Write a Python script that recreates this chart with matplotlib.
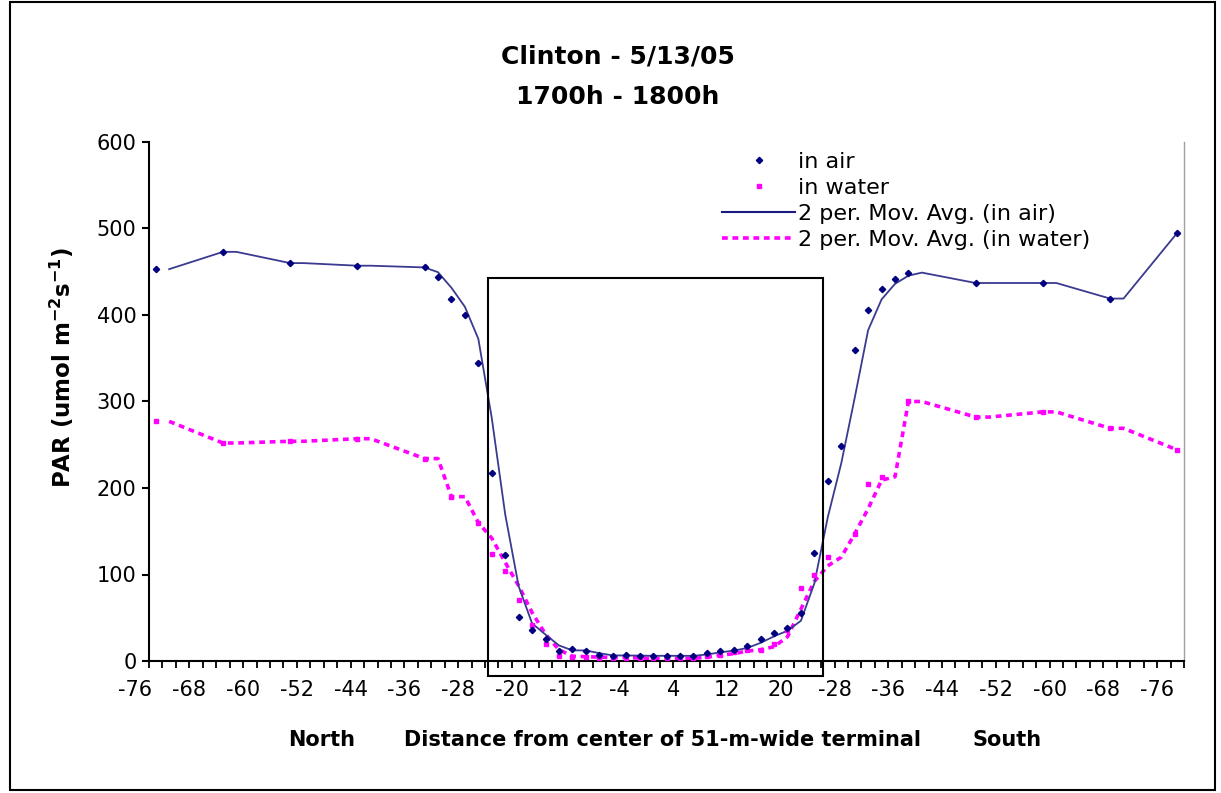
import numpy as np
import pandas as pd
import matplotlib
matplotlib.use('Agg')
import matplotlib.pyplot as plt
from matplotlib.patches import Rectangle
from matplotlib.lines import Line2D
from matplotlib.transforms import blended_transform_factory

plt.rcParams['font.family'] = ['DejaVu Sans']

# categories: distance every 2 m, 77 rows (the sheet labels both sides as negative)
n_cat = 77
tick_labels = ['-76', '-68', '-60', '-52', '-44', '-36', '-28', '-20', '-12', '-4',
               '4', '12', '20', '-28', '-36', '-44', '-52', '-60', '-68', '-76']

# PAR in air (row index -> value)
air_idx = [0, 5, 10, 15, 20, 21, 22, 23, 24, 25, 26, 27, 28, 29, 30, 31, 32, 33, 34, 35,
           36, 37, 38, 39, 40, 41, 42, 43, 44, 45, 46, 47, 48, 49, 50, 51, 52, 53, 54, 55,
           56, 61, 66, 71, 76]
air_val = [453, 473, 460, 457, 455, 444, 419, 400, 345, 217, 122, 51, 36, 25, 11, 13.5, 11, 7, 6, 6.6,
           6, 6, 6, 6, 6, 9, 11, 13, 17, 25, 32, 38, 55, 124.5, 208, 249, 359, 406, 430, 442,
           449, 437, 437, 419, 495]

# PAR in water
water_idx = [0, 5, 10, 15, 20, 22, 24, 25, 26, 27, 28, 29, 30, 31, 32, 33, 34, 35, 36, 37,
             38, 39, 40, 41, 42, 43, 44, 45, 46, 47, 48, 49, 50, 52, 53, 54, 56, 61, 66, 71, 76]
water_val = [277, 252, 254, 257, 234, 190, 160, 124, 104, 70, 42, 20, 6, 5, 5, 4, 4, 4, 3, 3,
             3, 3, 3, 6, 7, 10, 13, 13, 20, 36, 84, 100, 120, 147, 205, 213, 300, 282, 288, 269, 244]

air = pd.Series(np.nan, index=range(n_cat))
air[air_idx] = air_val
water = pd.Series(np.nan, index=range(n_cat))
water[water_idx] = water_val


def mov_avg(s):
    # 2 period moving average like the excel trendline (blank cells skipped)
    m = s.rolling(2, min_periods=1).mean()
    m[0] = np.nan
    return m.dropna()


air_ma = mov_avg(air)
water_ma = mov_avg(water)

fig = plt.figure(figsize=(12.21, 7.93), dpi=100)
ax = fig.add_axes([149 / 1221, 1 - 661 / 793, 1035 / 1221, 519 / 793])

navy = '#000080'
pink = '#ff00ff'

ax.plot(water_ma.index + 0.5, water_ma.values, color=pink, lw=2.6,
        linestyle=(0, (1.6, 1.3)), zorder=2)
ax.plot(air_ma.index + 0.5, air_ma.values, color='#3a3a90', lw=1.3, zorder=3)
ax.plot(np.array(water_idx) + 0.5, water_val, 's', color=pink, ms=3, zorder=4)
ax.plot(np.array(air_idx) + 0.5, air_val, 'D', color=navy, ms=3.2, zorder=5)

ax.set_xlim(0, n_cat)
ax.set_ylim(0, 600)

# terminal box
ax.add_patch(Rectangle((25.2, -17), 50.15 - 25.2, 443 + 17, fill=False,
                       ec='black', lw=1.5, clip_on=False, zorder=6))

ax.spines['top'].set_visible(False)
ax.spines['right'].set_color('#a0a0a0')
ax.spines['right'].set_linewidth(1)
ax.spines['left'].set_linewidth(1.5)
ax.spines['bottom'].set_linewidth(1.5)

ax.set_yticks(range(0, 601, 100))
ax.tick_params(axis='y', direction='out', length=5, width=1.5, labelsize=15, pad=4)
ax.set_xticks(range(0, n_cat + 1))
ax.set_xticklabels([])
ax.tick_params(axis='x', direction='out', length=5, width=1.3)

trans = blended_transform_factory(ax.transData, ax.transAxes)
for i, lab in enumerate(tick_labels):
    ax.text(4 * i - 1, -0.056, lab, transform=trans, ha='center', va='center',
            fontsize=15, clip_on=False)

fig.text(618 / 1221, 1 - 57 / 793, 'Clinton - 5/13/05', ha='center', va='center',
         fontsize=18, fontweight='bold')
fig.text(618 / 1221, 1 - 97 / 793, '1700h - 1800h', ha='center', va='center',
         fontsize=18, fontweight='bold')

fig.text(322 / 1221, 1 - 740 / 793, 'North', ha='center', va='center', fontsize=15, fontweight='bold')
fig.text(663 / 1221, 1 - 740 / 793, 'Distance from center of 51-m-wide terminal',
         ha='center', va='center', fontsize=15, fontweight='bold')
fig.text(1007 / 1221, 1 - 740 / 793, 'South', ha='center', va='center', fontsize=15, fontweight='bold')

fig.text(62 / 1221, 1 - 368 / 793, r'PAR (umol m$^{\mathbf{-2}}$s$^{\mathbf{-1}}$)',
         rotation=90, ha='center', va='center', fontsize=16.5, fontweight='bold')

handles = [
    Line2D([], [], ls='none', marker='D', color=navy, ms=3.2),
    Line2D([], [], ls='none', marker='s', color=pink, ms=3),
    Line2D([], [], color='#1a1a80', lw=1.5),
    Line2D([], [], color=pink, lw=2.6, linestyle=(0, (1.6, 1.3))),
]
names = ['in air', 'in water', '2 per. Mov. Avg. (in air)', '2 per. Mov. Avg. (in water)']
fig.legend(handles, names, loc='upper left', bbox_to_anchor=(722 / 1221, 1 - 152 / 793),
           frameon=False, fontsize=16, handlelength=3.3, handletextpad=0.1,
           labelspacing=0.27, borderpad=0, borderaxespad=0)

# outer chart border
fig.patches.append(Rectangle((10 / 1221, 1 - 790 / 793), 1205 / 1221, 788 / 793,
                             transform=fig.transFigure, fill=False, ec='black', lw=1.5))

fig.savefig('out.png', dpi=100)
